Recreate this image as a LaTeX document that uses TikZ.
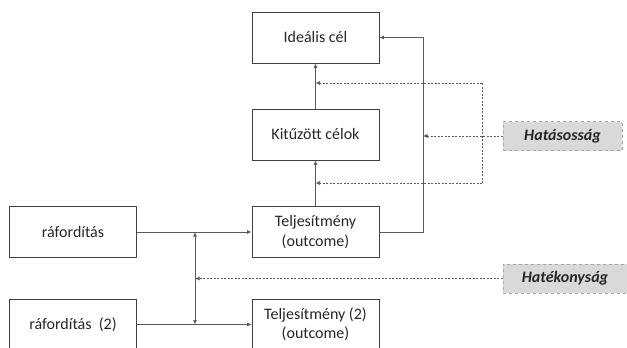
\documentclass[tikz,border=0pt]{standalone}
\usepackage{fontspec}
\setmainfont{Carlito}
\usetikzlibrary{arrows.meta,positioning}
\definecolor{frame}{RGB}{64,64,64}
\definecolor{wire}{RGB}{90,90,90}
\definecolor{tag}{RGB}{217,217,217}

\begin{document}
\begin{tikzpicture}[x=1pt,y=-1pt,>={Latex[length=4.5pt,width=4pt]},
  every node/.style={font=\fontsize{16}{19.5}\selectfont,text=black!85},
  box/.style={draw=frame,line width=0.8pt,minimum width=127pt,minimum height=51pt,inner sep=0pt,align=center},
  tagbox/.style={draw=gray!70,dashed,fill=tag,minimum height=29pt,inner sep=0pt,font=\fontsize{16}{19}\selectfont\bfseries\itshape},
  link/.style={draw=wire,line width=0.9pt},
  dots/.style={draw=wire,line width=0.7pt,dash pattern=on 2pt off 1.5pt}]
\clip (0,0) rectangle (627,348);
% boxes
\node[box] (ideal) at (315.5,37.5) {Ideális cél};
\node[box] (kituz) at (315.5,134.5) {Kitűzött célok};
\node[box] (tel) at (315.5,232) {Teljesítmény\\(outcome)};
\node[box] (tel2) at (315.5,324.5) {Teljesítmény (2)\\(outcome)};
\node[box] (raf) at (73,232) {ráfordítás};
\node[box] (raf2) at (73,324.5) {ráfordítás \ (2)};
\node[tagbox,minimum width=119pt] (hatas) at (562.5,136) {Hatásosság};
\node[tagbox,minimum width=124pt] (hatek) at (565,278.5) {Hatékonyság};
% helper points
\coordinate (bend) at (423,232);
\coordinate (hit) at (423,136);
\coordinate (j1) at (195,232);
\coordinate (j2) at (195,324.5);
\coordinate (j3) at (195,278.5);
\coordinate (b1) at (482,83);
\coordinate (b2) at (482,183);
\coordinate (k1) at (315.5,83);
\coordinate (k2) at (315.5,183);
% solid links
\draw[link,->] (raf) -- (tel);
\draw[link,->] (raf2) -- (tel2);
\draw[link,<->] (j1) -- (j2);
\draw[link,->] (tel) -- (kituz);
\draw[link,->] (kituz) -- (ideal);
\draw[link,->] (tel) -- (bend) |- (ideal);
% dashed links
\draw[dots,->] (hatas) -- (hit);
\draw[dots] (b1) -- (b2);
\draw[dots,->] (b1) -- (k1);
\draw[dots,->] (b2) -- (k2);
\draw[dots,->] (hatek) -- (j3);
\end{tikzpicture}
\end{document}
